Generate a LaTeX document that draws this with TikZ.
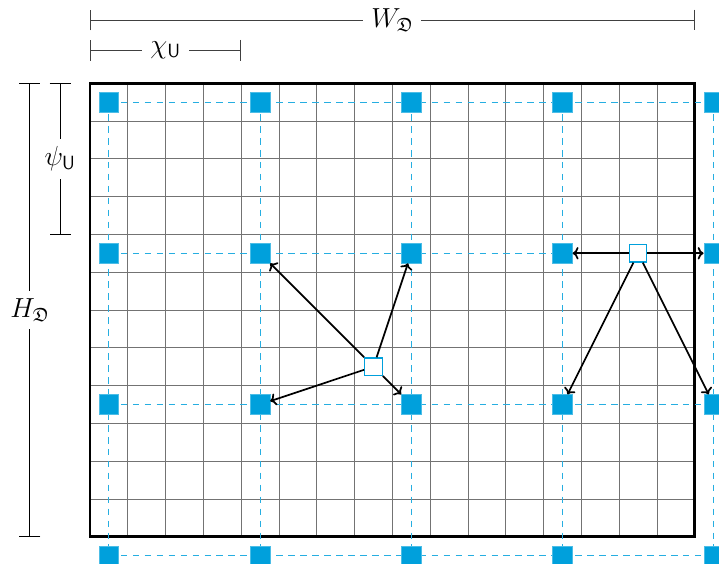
\documentclass[tikz,border=0pt]{standalone}
\usepackage{amssymb}
\usetikzlibrary{arrows.meta}
\definecolor{cellblue}{RGB}{0,160,220}
\begin{document}
\begin{tikzpicture}[
    gridline/.style={black!55, line width=0.5pt},
    link/.style={cellblue!85, dash pattern=on 5pt off 4pt, line width=0.6pt},
    cell/.style={fill=cellblue, draw=cellblue!70, minimum size=0.52cm, inner sep=0pt},
    probe/.style={fill=white, draw=cellblue, line width=1pt, minimum size=0.46cm, inner sep=0pt},
    dim/.style={{Bar[width=5.5mm]}-{Bar[width=5.5mm]}, line width=0.6pt},
    dimlabel/.style={fill=white, font=\huge, inner sep=6pt},
    pull/.style={->, line width=1.3pt}
  ]
  \clip (-2.38,-0.70) rectangle (16.64,14.20);

  \draw [gridline] (0,0) grid (16,12);
  \draw [line width=2.2pt] (0,0) rectangle (16,12);

  \foreach \i in {0,...,4}
    \foreach \j in {0,...,3}
      \coordinate (c-\i-\j) at (0.5+4*\i, 11.5-4*\j);
  \foreach \j in {0,...,3}
    \draw [link] (c-0-\j) -- (c-4-\j);
  \foreach \i in {0,...,4}
    \draw [link] (c-\i-0) -- (c-\i-3);
  \foreach \i in {0,...,4}
    \foreach \j in {0,...,3}
      \node [cell] (s-\i-\j) at (c-\i-\j) {};

  \node [probe] (p1) at (7.5,4.5) {};
  \node [probe] (p2) at (14.5,7.5) {};
  \foreach \t in {s-1-1,s-2-1,s-1-2,s-2-2}
    \draw [pull] (p1) -- (\t);
  \foreach \t in {s-3-1,s-4-1,s-3-2,s-4-2}
    \draw [pull] (p2) -- (\t);

  % extents
  \coordinate (w0) at (0,13.67);
  \coordinate (w1) at (16,13.67);
  \coordinate (x0) at (0,12.87);
  \coordinate (x1) at (4,12.87);
  \coordinate (h0) at (-1.59,12);
  \coordinate (h1) at (-1.59,0);
  \coordinate (y0) at (-0.79,12);
  \coordinate (y1) at (-0.79,8);
  \draw [dim, black!75] (w0) -- node[dimlabel, text=black] {$W_{\mathfrak{D}}$} (w1);
  \draw [dim, black!75] (x0) -- node[dimlabel, text=black] {$\chi_{\mathsf{U}}$} (x1);
  \draw [dim] (y0) -- node[dimlabel] {$\psi_{\mathsf{U}}$} (y1);
  \draw [dim] (h0) -- node[dimlabel] {$H_{\mathfrak{D}}$} (h1);
\end{tikzpicture}
\end{document}
